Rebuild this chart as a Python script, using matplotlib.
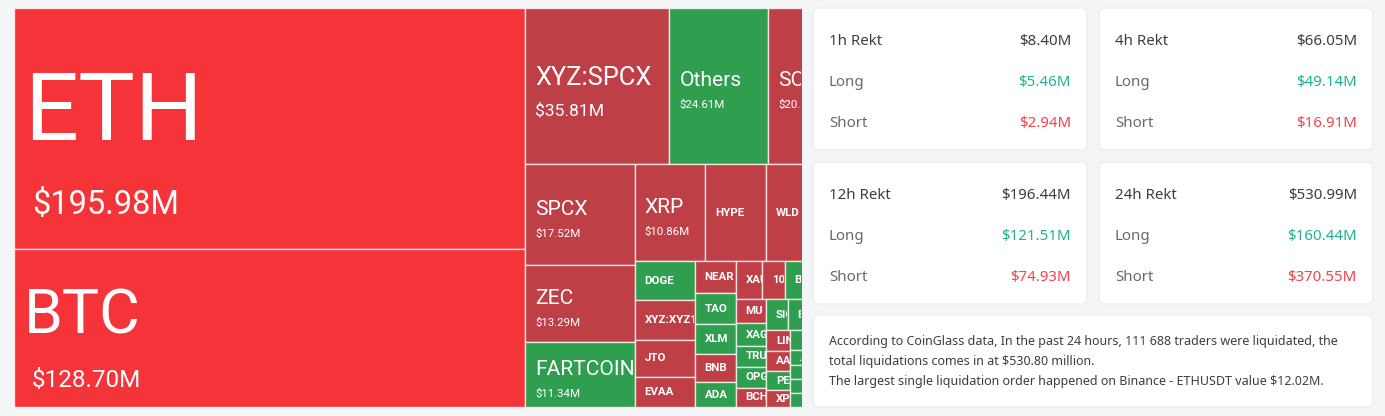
import matplotlib
matplotlib.use('Agg')
import matplotlib.pyplot as plt
from matplotlib.patches import Rectangle, FancyBboxPatch
from matplotlib.transforms import Bbox, TransformedBbox
import numpy as np

# ==========================================
# 数据 (24h liquidation treemap + stat cards)
# ==========================================
coins = ["ETH", "BTC", "XYZ:SPCX", "Others", "SOL", "SPCX", "ZEC", "FARTCOIN", "XRP", "HYPE", "WLD",
         "DOGE", "XYZ:XYZ100", "JTO", "EVAA",
         "NEAR", "TAO", "XLM", "BNB", "ADA",
         "XAU", "1000PEPE", "BERA", "SUI", "AVAX",
         "MU", "XAG", "TRUMP", "OPG", "BCH",
         "SIGN", "ENA", "LTC", "PUMP",
         "LINK", "AAVE", "PENGU", "XPL",
         "TRX", "DOT", "UNI", "ARB", "APT", "ONDO", "TIA", "INJ", "SEI",
         "WIF", "FIL", "OP", "NEIRO", "TON", "ATOM", "ETC", "POPCAT", "NOT"]
values = [195.98, 128.70, 35.81, 24.61, 20.31, 17.52, 13.29, 11.34, 10.86, 9.30, 12.95,
          3.75, 3.74, 3.57, 2.86,
          2.07, 2.06, 1.91, 1.85, 1.63,
          1.62, 1.38, 1.36, 1.33, 1.30,
          1.15, 1.10, 1.02, 1.00, 0.94,
          1.05, 1.03, 1.01, 1.00,
          0.80, 0.76, 0.76, 0.64,
          0.50, 0.48, 0.47, 0.46, 0.45, 0.44, 0.43, 0.42, 0.41,
          0.40, 0.39, 0.38, 0.37, 0.36, 0.35, 0.34, 0.33, 0.32]
# 主导方向: S = short 爆仓为主 (红), L = long 为主 (绿)
sides = ["S", "S", "S", "L", "S", "S", "S", "L", "S", "S", "S",
         "L", "S", "S", "S",
         "S", "L", "L", "S", "L",
         "S", "S", "L", "S", "L",
         "S", "L", "L", "L", "S",
         "L", "L", "S", "L",
         "S", "S", "L", "S",
         "L", "L", "L", "S", "L", "L", "L", "L", "S",
         "L", "L", "L", "L", "L", "S", "L", "L", "L"]

periods = ["1h", "4h", "12h", "24h"]
rekt_total = [8.40, 66.05, 196.44, 530.99]
rekt_long = [5.46, 49.14, 121.51, 160.44]
rekt_short = [2.94, 16.91, 74.93, 370.55]

traders = "111 688"
total_liq = 530.80
largest_order = 12.02

# ==========================================
# 样式
# ==========================================
W, H = 1385, 416
TM_W, TM_H = 836, 399      # treemap 容器 (右侧被卡片区域裁掉)
TM_VISIBLE = 788
TM_LEFT, TM_TOP = 14, 8
GOLDEN = 0.5 * (1 + np.sqrt(5))

RED_HOT = '#f5343a'
RED = '#bf3f46'
GREEN = '#2f9e4f'
TM_FONT = ['Roboto', 'DejaVu Sans']
UI_FONT = ['Noto Sans', 'DejaVu Sans']
PX = 0.72  # px -> pt at dpi 100


# ==========================================
# squarify (echarts 风格, squareRatio = 黄金比)
# ==========================================
def worst(row_areas, s, fixed, ratio):
    f = fixed * fixed * ratio
    return max(f * max(row_areas) / (s * s), s * s / (f * min(row_areas)))


def place(row, s, fixed, rect, cells, areas, flush):
    horizontal = fixed == rect[2]
    span = s / fixed
    other = rect[3] if horizontal else rect[2]
    if flush or span > other:
        span = other
    pos = rect[0] if horizontal else rect[1]
    end = pos + (rect[2] if horizontal else rect[3])
    for k, j in enumerate(row):
        step = areas[j] / span
        if k == len(row) - 1 or end - pos < step:
            step = end - pos
        if horizontal:
            cells[j] = (pos, rect[1], step, span)
        else:
            cells[j] = (rect[0], pos, span, step)
        pos += step
    if horizontal:
        rect[1] += span
        rect[3] -= span
    else:
        rect[0] += span
        rect[2] -= span


def squarify(vals, width, height, ratio=GOLDEN):
    total = float(sum(vals))
    areas = [v * width * height / total for v in vals]
    rect = [0.0, 0.0, float(width), float(height)]
    cells = [None] * len(vals)
    fixed = min(rect[2], rect[3])
    row, row_area, best = [], 0.0, np.inf
    i = 0
    while i < len(areas):
        row.append(i)
        row_area += areas[i]
        score = worst([areas[j] for j in row], row_area, fixed, ratio)
        if score <= best:
            best = score
            i += 1
        else:
            row.pop()
            row_area -= areas[i]
            place(row, row_area, fixed, rect, cells, areas, False)
            fixed = min(rect[2], rect[3])
            row, row_area, best = [], 0.0, np.inf
    if row:
        place(row, row_area, fixed, rect, cells, areas, True)
    return cells


fig = plt.figure(figsize=(W / 100, H / 100), dpi=100)
fig.patch.set_facecolor('#f4f5f7')

# ---------------- UI 背景层 (卡片) ----------------
ui = fig.add_axes([0, 0, 1, 1])
ui.set_xlim(0, W)
ui.set_ylim(H, 0)
ui.axis('off')


def card(x, y, w, h):
    ui.add_patch(FancyBboxPatch((x, y), w, h, boxstyle="round,pad=0,rounding_size=6",
                                facecolor='white', edgecolor='#e9eaee', lw=0.8))


card_w, card_h, gap = 274, 142, 12
for k, p in enumerate(periods):
    cx = 813 + (k % 2) * (card_w + gap)
    cy = 8 + (k // 2) * (card_h + gap)
    card(cx, cy, card_w, card_h)
    rows = [(f"{p} Rekt", rekt_total[k], '#3a3e45', '#3a3e45'),
            ("Long", rekt_long[k], '#626a74', '#1fb38b'),
            ("Short", rekt_short[k], '#626a74', '#f2434f')]
    for r, (lab, v, lc, vc) in enumerate(rows):
        yy = cy + 33.5 + r * 41
        ui.text(cx + 16, yy, lab, fontsize=15 * PX, color=lc, va='center', ha='left', family=UI_FONT)
        ui.text(cx + card_w - 16, yy, f"${v:.2f}M", fontsize=15 * PX, color=vc,
                va='center', ha='right', family=UI_FONT)

card(813, 315, 2 * card_w + gap, 92)
para = [f"According to CoinGlass data, In the past 24 hours, {traders} traders were liquidated, the",
        f"total liquidations comes in at ${total_liq:.2f} million.",
        f"The largest single liquidation order happened on Binance - ETHUSDT value ${largest_order:.2f}M."]
for r, line in enumerate(para):
    ui.text(829, 341 + r * 20, line, fontsize=12.5 * PX, color='#3a3e45', va='center', ha='left',
            family=UI_FONT)

# ---------------- Treemap ----------------
ax = fig.add_axes([TM_LEFT / W, 1 - (TM_TOP + TM_H) / H, TM_VISIBLE / W, TM_H / H])
ax.set_xlim(0, TM_VISIBLE)
ax.set_ylim(0, TM_H)
ax.axis('off')

cells = squarify(values, TM_W, TM_H)

for i, (name, v, side, c) in enumerate(zip(coins, values, sides, cells)):
    x, yt, w, h = c
    y = TM_H - yt - h   # 转成 y 向上坐标
    if side == 'S':
        color = RED_HOT if v >= 100 else RED
    else:
        color = GREEN
    ax.add_patch(Rectangle((x, y), w, h, facecolor=color, edgecolor=(1, 1, 1, 0.75), lw=1.0))

    # 标签起点在可见区域之外 -> 完全被裁掉, 不画
    if x + 10 >= TM_VISIBLE:
        continue
    clip = TransformedBbox(Bbox.from_extents(x + 0.5, y + 0.5, min(x + w, TM_VISIBLE) - 0.5, y + h - 0.5),
                           ax.transData)
    cy = y + h / 2
    texts = []
    if i < 9:
        if v >= 100:
            fs_n, fs_v, pad_v = 0.395 * h, 0.1 * h + 8.5, 18
        elif v >= 30:
            fs_n, fs_v, pad_v = 25.5, 17.5, 10
        else:
            fs_n, fs_v, pad_v = 21, 11.5, 10
        cap_n, cap_v = 0.72 * fs_n, 0.72 * fs_v
        gap_nv = 0.35 * fs_n + 0.55 * fs_v
        block = cap_n + gap_nv + cap_v
        top = cy + block / 2 - 0.1 * block   # 稍微偏下
        base_n = top - cap_n
        base_v = base_n - gap_nv - cap_v
        texts.append(ax.text(x + 10, base_n, name, fontsize=fs_n * PX, color='white',
                             va='baseline', ha='left', family=TM_FONT))
        texts.append(ax.text(x + pad_v, base_v, f"${v:.2f}M", fontsize=fs_v * PX, color='white',
                             va='baseline', ha='left', family=TM_FONT))
    else:
        texts.append(ax.text(x + 10, cy, name, fontsize=11.5 * PX, color='white', fontweight='bold',
                             va='center', ha='left', family=TM_FONT))
    for t in texts:
        t.set_clip_box(clip)
        t.set_clip_on(True)

fig.savefig('out.png', dpi=100, facecolor=fig.get_facecolor())
